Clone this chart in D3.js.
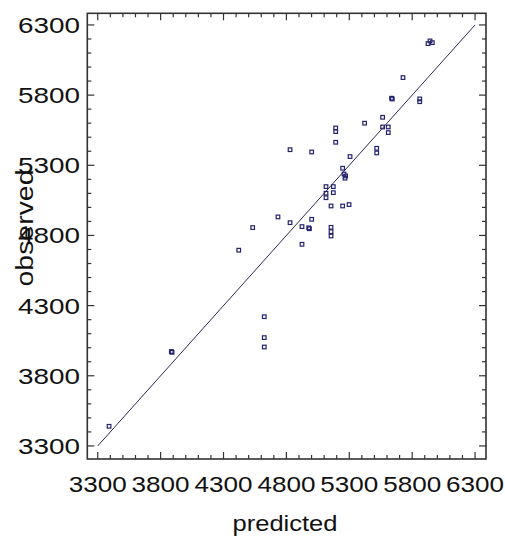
<!DOCTYPE html>
<html>
<head>
<meta charset="utf-8">
<script src="https://cdn.jsdelivr.net/npm/d3@7"></script>
<style>
  body { margin: 0; background: #fff; }
  text { font-family: "Liberation Sans", Arial, sans-serif; fill: #111; }
</style>
</head>
<body>
<div id="chart"></div>
<script>
const predicted = [
  3390, 3885, 3891, 4421, 4532, 4624, 4624, 4624, 4733, 4829,
  4829, 4924, 4924, 4977, 4983, 5001, 5001, 5115, 5115, 5115,
  5155, 5155, 5155, 5155, 5173, 5173, 5192, 5192, 5192, 5247,
  5258, 5271, 5266, 5247, 5298, 5306, 5422, 5518, 5518, 5565,
  5565, 5610, 5610, 5636, 5642, 5727, 5860, 5860, 5926, 5942, 5960
];
const observed = [
  3440, 3973, 3967, 4695, 4856, 4221, 4072, 4005, 4932, 4891,
  5411, 4863, 4737, 4854, 4848, 4915, 5395, 5148, 5101, 5069,
  5010, 4858, 4827, 4796, 5148, 5105, 5566, 5540, 5464, 5279,
  5238, 5224, 5208, 5010, 5020, 5362, 5600, 5421, 5388, 5642,
  5573, 5573, 5533, 5778, 5772, 5925, 5773, 5753, 6167, 6186, 6174
];
const tickValues = [3300, 3800, 4300, 4800, 5300, 5800, 6300];
const fitLine = [3300, 6300];

const width = 505, height = 537;
const plotL = 87.3, plotR = 486, plotT = 13.3, plotB = 459;

const svg = d3.select('#chart').append('svg')
  .attr('width', width)
  .attr('height', height);

const x = d3.scaleLinear().domain([3217, 6387]).range([plotL, plotR]);
const y = d3.scaleLinear().domain([3207, 6383]).range([plotB, plotT]);

const minor = d3.range(3300, 6301, 100);
const isMajor = v => (v - 3300) % 500 === 0;

// ticks pointing inward on all four sides
const ticks = svg.append('g').attr('stroke', '#333').attr('stroke-width', 1.2);
minor.forEach(v => {
  const len = isMajor(v) ? 7 : 4;
  const px = x(v), py = y(v);
  ticks.append('line').attr('x1', px).attr('x2', px).attr('y1', plotB).attr('y2', plotB - len);
  ticks.append('line').attr('x1', px).attr('x2', px).attr('y1', plotT).attr('y2', plotT + len);
  ticks.append('line').attr('y1', py).attr('y2', py).attr('x1', plotL).attr('x2', plotL + len);
  ticks.append('line').attr('y1', py).attr('y2', py).attr('x1', plotR).attr('x2', plotR - len);
});

svg.append('rect')
  .attr('x', plotL).attr('y', plotT)
  .attr('width', plotR - plotL).attr('height', plotB - plotT)
  .attr('fill', 'none')
  .attr('stroke', '#333')
  .attr('stroke-width', 1.6);

// tick labels
svg.selectAll('.xlab').data(tickValues).enter().append('text')
  .attr('class', 'xlab')
  .attr('x', d => x(d))
  .attr('y', 492)
  .attr('text-anchor', 'middle')
  .attr('font-size', 22.5)
  .attr('textLength', 58)
  .attr('lengthAdjust', 'spacingAndGlyphs')
  .text(d => d);

svg.selectAll('.ylab').data(tickValues).enter().append('text')
  .attr('class', 'ylab')
  .attr('x', 80)
  .attr('y', d => y(d) + 8)
  .attr('text-anchor', 'end')
  .attr('font-size', 22.5)
  .attr('textLength', 62)
  .attr('lengthAdjust', 'spacingAndGlyphs')
  .text(d => d);

svg.append('text')
  .attr('x', 285)
  .attr('y', 531)
  .attr('text-anchor', 'middle')
  .attr('font-size', 22.5)
  .attr('textLength', 105)
  .attr('lengthAdjust', 'spacingAndGlyphs')
  .text('predicted');

svg.append('text')
  .attr('transform', 'translate(33,228) rotate(-90)')
  .attr('text-anchor', 'middle')
  .attr('font-size', 23)
  .attr('textLength', 117)
  .attr('lengthAdjust', 'spacingAndGlyphs')
  .text('observed');

// diagonal reference line
svg.append('line')
  .attr('x1', x(fitLine[0])).attr('y1', y(fitLine[0]))
  .attr('x2', x(fitLine[1])).attr('y2', y(fitLine[1]))
  .attr('stroke', '#2b2b55')
  .attr('stroke-width', 1);

const pts = predicted.map((p, i) => ({ p, o: observed[i] }));
svg.selectAll('.pt').data(pts).enter().append('rect')
  .attr('class', 'pt')
  .attr('x', d => x(d.p) - 1.8)
  .attr('y', d => y(d.o) - 1.8)
  .attr('width', 3.6)
  .attr('height', 3.6)
  .attr('fill', 'none')
  .attr('stroke', '#22226e')
  .attr('stroke-width', 1.2);
</script>
</body>
</html>
